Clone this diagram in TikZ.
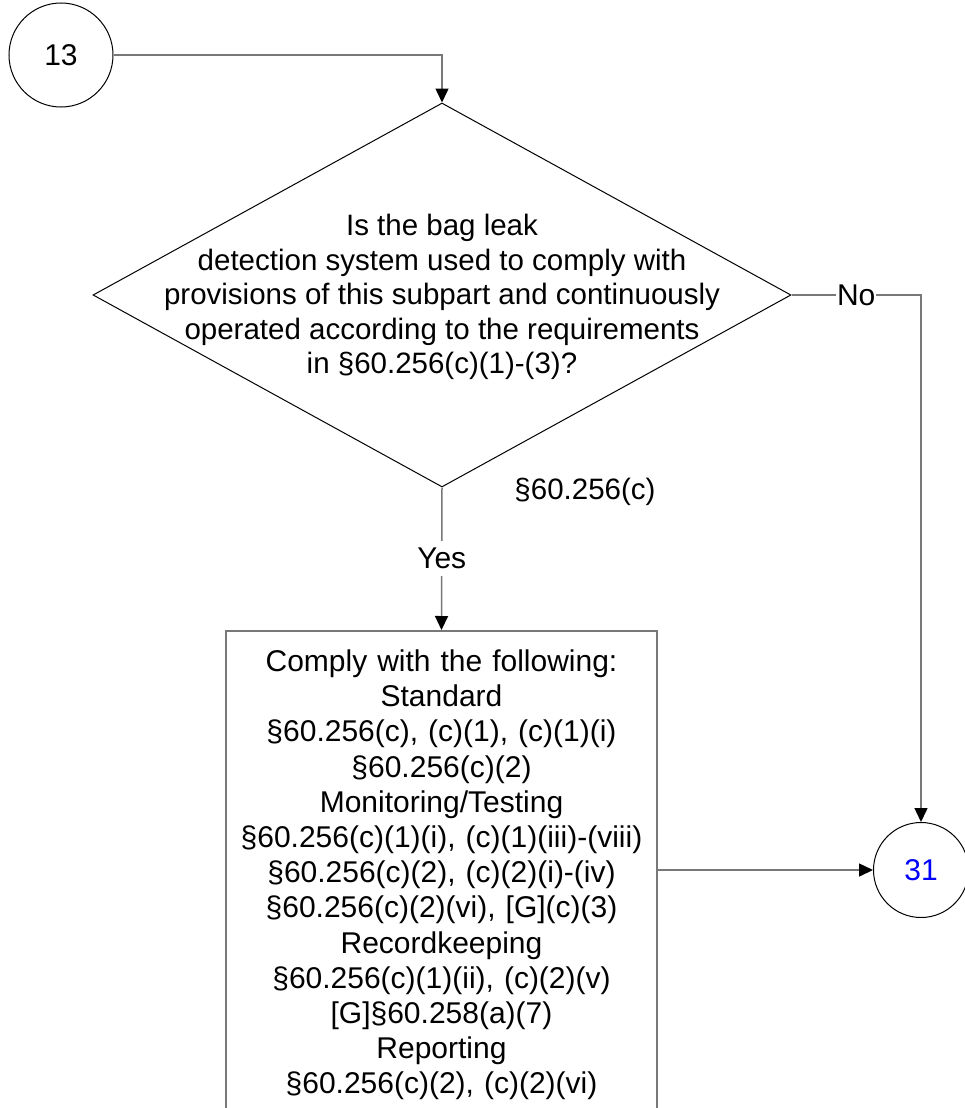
\documentclass[tikz,border=0pt]{standalone}
\usepackage{fontspec}
\setmainfont{Liberation Sans}
\usetikzlibrary{shapes.geometric, arrows.meta}
\definecolor{linegray}{RGB}{120,120,120}
\definecolor{numblue}{RGB}{0,0,255}
\tikzstyle{circ} = [draw, circle, fill=white, line width=1pt, inner sep=0pt,
font=\fontsize{30}{34.5}\selectfont]
\tikzstyle{dmd} = [draw, diamond, line width=1pt, minimum width=698pt,
minimum height=384pt, inner sep=0pt]
\tikzstyle{txt} = [align=center, inner sep=0pt, font=\fontsize{29.5}{34.5}\selectfont]
\tikzstyle{blk} = [draw=linegray, line width=1.5pt, text width=420pt, inner xsep=5.5pt,
inner ysep=19pt, align=center, font=\fontsize{30}{35.2}\selectfont]
\tikzstyle{conn} = [draw=linegray, line width=1.5pt,
-{Triangle[width=13pt, length=14pt, color=black]}]
\tikzstyle{lbl} = [fill=white, inner xsep=1pt, inner ysep=7pt,
font=\fontsize{30}{34.5}\selectfont]

\begin{document}
\begin{tikzpicture}[x=1pt, y=-1pt]
                    \useasboundingbox (0, 0) rectangle (964, 1108);
                    \node[circ, minimum size=104pt] (c13) at (61, 55) {13};
                    \node[dmd] (dec) at (442, 295) {};
                    \node[txt] (q) at (442, 297) {Is the bag leak\\
                        detection system used to comply with\\
                        provisions of this subpart and continuously\\
                        operated according to the requirements\\
                        in \S60.256(c)(1)-(3)?};
                    \node[txt] (ref) at (585, 492) {\S60.256(c)};
                    \node[blk, anchor=north] (blk) at (441.5, 630) {Comply with the following:\\
                        Standard\\
                        \S60.256(c), (c)(1), (c)(1)(i)\\
                        \S60.256(c)(2)\\
                        Monitoring/Testing\\
                        \S60.256(c)(1)(i), (c)(1)(iii)-(viii)\\
                        \S60.256(c)(2), (c)(2)(i)-(iv)\\
                        \S60.256(c)(2)(vi), {[G]}(c)(3)\\
                        Recordkeeping\\
                        \S60.256(c)(1)(ii), (c)(2)(v)\\
                        {[G]}\S60.258(a)(7)\\
                        Reporting\\
                        \S60.256(c)(2), (c)(2)(vi)};
                    \node[circ, minimum size=95pt, text=numblue] (c31) at (921, 870) {31};
                    \draw[conn] (c13.east) -| (dec.north);
                    \draw[conn] (dec.east) -| node[lbl, pos=0.25] (no) {No} (c31.north);
                    \draw[conn] (dec.south) -- node[lbl] (yes) {Yes} (blk.north);
                    \draw[conn] (blk.east |- c31.west) -- (c31.west);
                \end{tikzpicture}
\end{document}
